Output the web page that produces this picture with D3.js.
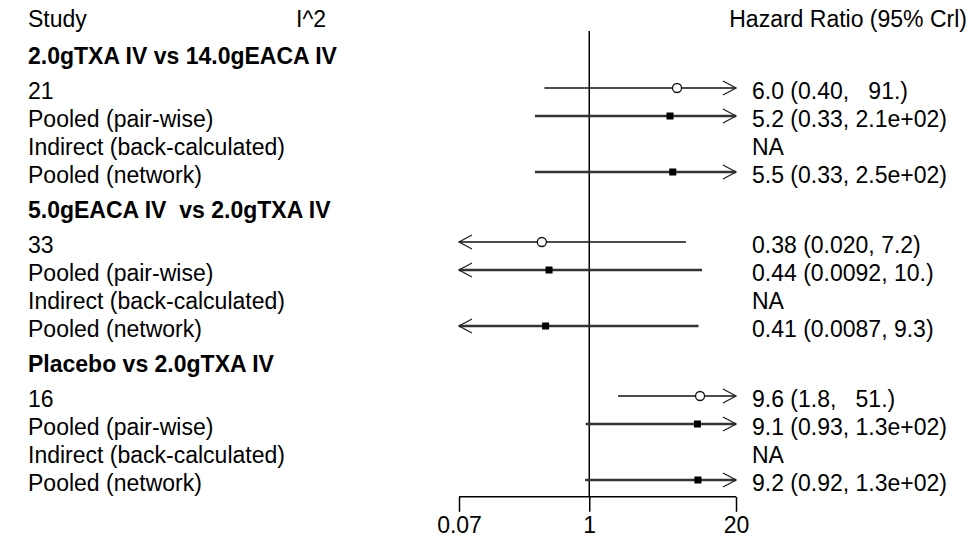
<!DOCTYPE html>
<html>
<head>
<meta charset="utf-8">
<script src="https://cdn.jsdelivr.net/npm/d3@7/dist/d3.min.js"></script>
<style>
  html, body { margin: 0; padding: 0; background: #fff; }
  svg text { font-family: "Liberation Sans", Arial, sans-serif; font-size: 23px; fill: #000; white-space: pre; }
</style>
</head>
<body>
<svg id="chart" width="974" height="541"></svg>
<script>
// ---- data ----
const groups = ["2.0gTXA IV vs 14.0gEACA IV", "5.0gEACA IV  vs 2.0gTXA IV", "Placebo vs 2.0gTXA IV"];
const rowLabels = [
  ["21", "Pooled (pair-wise)", "Indirect (back-calculated)", "Pooled (network)"],
  ["33", "Pooled (pair-wise)", "Indirect (back-calculated)", "Pooled (network)"],
  ["16", "Pooled (pair-wise)", "Indirect (back-calculated)", "Pooled (network)"]
];
const rowTypes = ["study", "pooled", "indirect", "pooled"];
const estimates = [[6.0, 5.2, null, 5.5], [0.38, 0.44, null, 0.41], [9.6, 9.1, null, 9.2]];
const lowers = [[0.40, 0.33, null, 0.33], [0.020, 0.0092, null, 0.0087], [1.8, 0.93, null, 0.92]];
const uppers = [[91, 210, null, 250], [7.2, 10, null, 9.3], [51, 130, null, 130]];
const valueLabels = [
  ["6.0 (0.40,   91.)", "5.2 (0.33, 2.1e+02)", "NA", "5.5 (0.33, 2.5e+02)"],
  ["0.38 (0.020, 7.2)", "0.44 (0.0092, 10.)", "NA", "0.41 (0.0087, 9.3)"],
  ["9.6 (1.8,   51.)", "9.1 (0.93, 1.3e+02)", "NA", "9.2 (0.92, 1.3e+02)"]
];
const tickValues = [0.07, 1, 20];
const tickLabels = ["0.07", "1", "20"];
const headerStudy = "Study", headerI2 = "I^2", headerHR = "Hazard Ratio (95% Crl)";

// ---- layout ----
const svg = d3.select("#chart");
const x = d3.scaleLog().domain([0.07, 20]).range([459, 736]);
const y = d3.scaleLinear().domain([0, 1]).range([88, 116]); // one row unit = 28px
const groupStep = 5.5;
const [xmin, xmax] = x.domain();
const axisY = y(14.6);

// header
svg.append("text").attr("x", 28).attr("y", 27).text(headerStudy);
svg.append("text").attr("x", 296).attr("y", 27).text(headerI2);
svg.append("text").attr("x", 967).attr("y", 27).attr("text-anchor", "end").text(headerHR);

// reference line at 1
svg.append("line").attr("x1", x(1)).attr("x2", x(1)).attr("y1", 31).attr("y2", axisY)
  .attr("stroke", "#000").attr("stroke-width", 1.5);

function arrowRight(g, yy) {
  const t = x(xmax);
  g.append("path").attr("d", `M${t - 13},${yy - 7}L${t},${yy}L${t - 13},${yy + 7}`)
    .attr("fill", "none").attr("stroke", "#222").attr("stroke-width", 1.3);
}
function arrowLeft(g, yy) {
  const t = x(xmin);
  g.append("path").attr("d", `M${t + 13},${yy - 7}L${t},${yy}L${t + 13},${yy + 7}`)
    .attr("fill", "none").attr("stroke", "#222").attr("stroke-width", 1.3);
}

groups.forEach((gname, gi) => {
  const base = gi * groupStep;
  const g = svg.append("g");
  g.append("text").attr("x", 28).attr("y", y(base) - 24)
    .style("font-weight", "bold").text(gname);
  rowLabels[gi].forEach((lab, ri) => {
    const yy = y(base + ri);
    g.append("text").attr("x", 28).attr("y", yy + 11).text(lab);
    g.append("text").attr("x", 752).attr("y", yy + 11).text(valueLabels[gi][ri]);
    const est = estimates[gi][ri];
    if (est == null) return;
    const lo = lowers[gi][ri], hi = uppers[gi][ri];
    const type = rowTypes[ri];
    const x1 = x(Math.max(lo, xmin)), x2 = x(Math.min(hi, xmax));
    g.append("line").attr("x1", x1).attr("x2", x2).attr("y1", yy).attr("y2", yy)
      .attr("stroke", type === "study" ? "#111" : "#333")
      .attr("stroke-width", type === "study" ? 1.3 : 2.6);
    if (hi > xmax) arrowRight(g, yy);
    if (lo < xmin) arrowLeft(g, yy);
    if (type === "study") {
      g.append("circle").attr("cx", x(est)).attr("cy", yy).attr("r", 4.5)
        .attr("fill", "#fff").attr("stroke", "#111").attr("stroke-width", 1.3);
    } else {
      g.append("rect").attr("x", x(est) - 3.5).attr("y", yy - 3.5).attr("width", 7).attr("height", 7)
        .attr("fill", "#000");
    }
  });
});

// axis
const axis = d3.axisBottom(x).tickValues(tickValues).tickFormat((d, i) => tickLabels[i]).tickSize(15).tickPadding(6);
const ga = svg.append("g").attr("transform", `translate(0,${axisY})`).call(axis);
ga.select(".domain").attr("d", `M${x(xmin)},0H${x(xmax)}`).attr("stroke", "#000").attr("stroke-width", 1.5);
ga.selectAll(".tick line").attr("stroke", "#000").attr("stroke-width", 1.5);
ga.selectAll(".tick text").attr("fill", "#000").style("font-size", "23px")
  .style("font-family", "'Liberation Sans', Arial, sans-serif").attr("dy", null).attr("y", 36);
</script>
</body>
</html>
